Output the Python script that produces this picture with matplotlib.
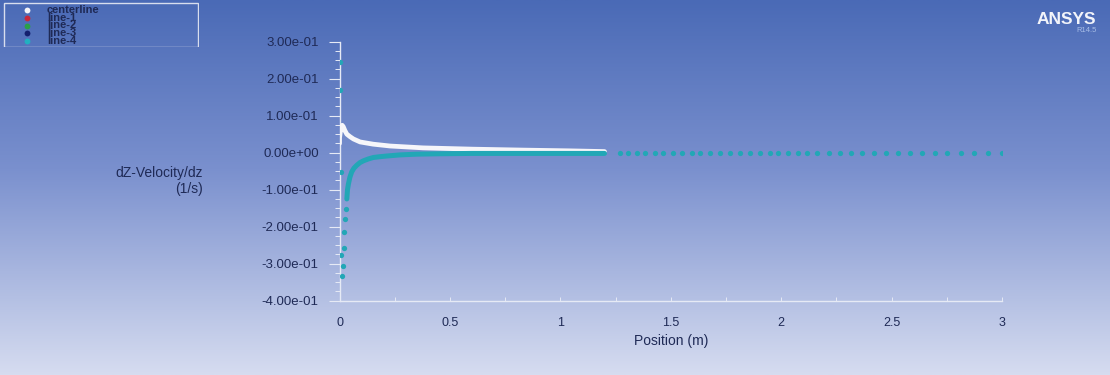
import numpy as np
import matplotlib
matplotlib.use("Agg")
import matplotlib.pyplot as plt
from matplotlib.patches import Rectangle

plt.rcParams["font.family"] = ["Liberation Sans", "DejaVu Sans"]

# ---- data ----
# centerline (white): dense band near the inlet
center_x = [0.0, 0.0, 0.004, 0.008, 0.012, 0.017, 0.024, 0.033, 0.048, 0.063,
            0.093, 0.152, 0.229, 0.378, 0.605, 0.83, 1.04, 1.2]
center_y = [0.025, 0.040, 0.058, 0.070, 0.074, 0.070, 0.060, 0.050, 0.043, 0.037,
            0.029, 0.023, 0.018, 0.013, 0.0095, 0.007, 0.005, 0.003]

# line-4 (cyan): scattered points right at the inlet
inlet_x = [0.0, 0.0, 0.005, 0.007, 0.013, 0.015, 0.020, 0.022, 0.025, 0.030]
inlet_y = [0.245, 0.170, -0.052, -0.277, -0.333, -0.305, -0.214, -0.258, -0.178, -0.151]

# line-4: dense band
band_x = [0.033, 0.036, 0.040, 0.047, 0.055, 0.065, 0.078, 0.092, 0.108, 0.13,
          0.153, 0.18, 0.214, 0.274, 0.35, 0.45, 0.6, 0.8, 1.0, 1.2]
band_y = [-0.125, -0.100, -0.085, -0.066, -0.052, -0.042, -0.034, -0.027, -0.022, -0.017,
          -0.013, -0.011, -0.009, -0.006, -0.004, -0.003, -0.002, -0.002, -0.002, -0.002]

# line-4: separate mesh points further downstream
far_x = [1.270, 1.307, 1.347, 1.384, 1.429, 1.465, 1.510, 1.551, 1.596, 1.632,
         1.677, 1.722, 1.768, 1.813, 1.858, 1.904, 1.949, 1.986, 2.031, 2.076,
         2.116, 2.164, 2.217, 2.267, 2.317, 2.368, 2.421, 2.475, 2.528, 2.584,
         2.638, 2.697, 2.750, 2.815, 2.874, 2.936, 2.999]
far_y = [-0.002, -0.002, -0.002, -0.002, -0.002, -0.002, -0.002, -0.002, -0.002, -0.002,
         -0.002, -0.002, -0.002, -0.002, -0.002, -0.002, -0.002, -0.002, -0.002, -0.002,
         -0.002, -0.002, -0.002, -0.002, -0.002, -0.002, -0.002, -0.002, -0.002, -0.002,
         -0.002, -0.002, -0.002, -0.002, -0.002, -0.002, -0.002]

yticks = [-0.4, -0.3, -0.2, -0.1, 0.0, 0.1, 0.2, 0.3]
ytick_labels = ["-4.00e-01", "-3.00e-01", "-2.00e-01", "-1.00e-01",
                "0.00e+00", "1.00e-01", "2.00e-01", "3.00e-01"]
xticks = [0, 0.5, 1, 1.5, 2, 2.5, 3]
xtick_labels = ["0", "0.5", "1", "1.5", "2", "2.5", "3"]

legend_names = ["centerline", "line-1", "line-2", "line-3", "line-4"]
legend_colors = ["#f4f4f8", "#c8283c", "#2aa048", "#14206e", "#22b0c0"]

TXT = "#1f2a56"
AXC = "#e6eaf5"
CYAN = "#22a7b6"
WHITE = "#f6f6fa"

fig = plt.figure(figsize=(11.1, 3.75), dpi=100)

# ---- gradient background ----
bg = fig.add_axes([0, 0, 1, 1], zorder=-10)
top = np.array([74, 106, 182]) / 255
mid = np.array([122, 144, 206]) / 255
bot = np.array([214, 220, 240]) / 255
t = np.linspace(0, 1, 300)[:, None]
grad = np.where(t < 0.45, top + (mid - top) * (t / 0.45), mid + (bot - mid) * ((t - 0.45) / 0.55))
bg.imshow(grad[:, None, :].repeat(2, axis=1), aspect="auto", extent=[0, 1, 0, 1])
bg.set_axis_off()

# ---- main axes ----
ax = fig.add_axes([0.3059, 0.198, 0.5968, 0.691])
ax.set_facecolor("none")
ax.set_xlim(0, 3)
ax.set_ylim(-0.4, 0.3)

ax.plot(center_x, center_y, "-", color=WHITE, lw=3.4, solid_capstyle="round", zorder=3)
ax.plot(band_x, band_y, "-", color=CYAN, lw=3.6, solid_capstyle="round", zorder=4)
ax.plot(inlet_x, inlet_y, "o", color=CYAN, ms=3.8, mew=0, zorder=4)
ax.plot(far_x, far_y, "o", color=CYAN, ms=3.8, mew=0, zorder=4)

for s in ["top", "right"]:
    ax.spines[s].set_visible(False)
for s in ["left", "bottom"]:
    ax.spines[s].set_color(AXC)
    ax.spines[s].set_linewidth(1.0)

ax.set_yticks(yticks)
ax.set_yticklabels(ytick_labels)
ax.set_yticks(np.arange(-0.4, 0.3001, 0.025), minor=True)
ax.set_xticks(xticks)
ax.set_xticklabels(xtick_labels)
ax.set_xticks([0.25, 0.75, 1.25, 1.75, 2.25, 2.75], minor=True)
ax.tick_params(axis="y", which="major", direction="out", length=8, width=0.8,
               color=AXC, labelcolor=TXT, labelsize=9.5, pad=7)
ax.tick_params(axis="y", which="minor", direction="out", length=3.5, width=0.7, color=AXC)
ax.tick_params(axis="x", which="both", direction="in", length=3, width=0.7,
               color=AXC, labelcolor=TXT, labelsize=9, pad=12)
ax.set_xlabel("Position (m)", fontsize=10, color=TXT, labelpad=3)

fig.text(203 / 1110, 1 - 181 / 375, "dZ-Velocity/dz\n(1/s)", ha="right", va="center",
         multialignment="right", fontsize=10, color=TXT)

# ---- legend box ----
lg = fig.add_axes([3 / 1110, 1 - 47 / 375, 196 / 1110, 45 / 375])
lg.set_xlim(0, 196)
lg.set_ylim(45, 0)
lg.set_axis_off()
lg.add_patch(Rectangle((0.5, 0.5), 195, 44, fill=False, ec="#d8deee", lw=1.0))
rows = [8, 16, 23.5, 31, 39]
for name, col, yy in zip(legend_names, legend_colors, rows):
    lg.plot([24], [yy], "o", color=col, ms=4.2, mew=0)
    lg.text(44, yy, name, fontsize=8, fontweight="bold", color=TXT, va="center", ha="left")

# ---- logo ----
fig.text(1096 / 1110, 1 - 19 / 375, "ANSYS", ha="right", va="center",
         fontsize=12.5, fontweight="bold", color="#f2f4fa")
fig.text(1097 / 1110, 1 - 31 / 375, "R14.5", ha="right", va="center",
         fontsize=5.5, color="#a8bde6")

fig.savefig("out.png", dpi=100)
